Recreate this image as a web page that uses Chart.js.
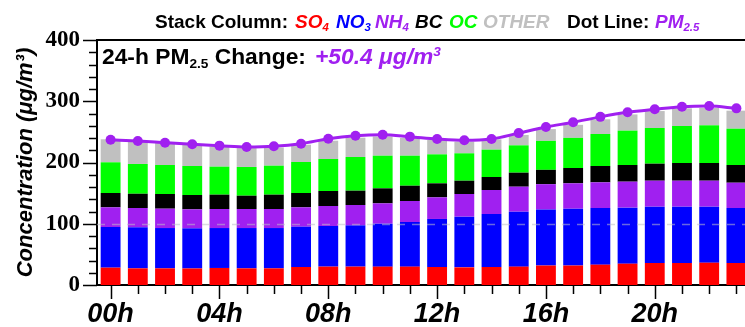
<!DOCTYPE html>
<html><head><meta charset="utf-8">
<script src="https://cdn.jsdelivr.net/npm/chart.js@4"></script>
<style>
html,body{margin:0;padding:0;background:#fff;overflow:hidden;width:745px;height:327px;}
#wrap{position:relative;width:755px;height:327px;}
canvas{position:absolute;left:0;top:0;}
.t{position:absolute;white-space:nowrap;font-family:"Liberation Sans",Arial,sans-serif;font-weight:bold;line-height:1;color:#000;}
.i{font-style:italic;}
.lg{font-size:19px;top:11.5px;}
.sb{font-size:0.6em;position:relative;top:0.3em;}
.sp{font-size:0.6em;position:relative;top:-0.6em;}
</style></head>
<body>
<div id="wrap">
<canvas id="c" width="755" height="327"></canvas>
<div class="t lg" style="left:155px;">Stack Column:</div>
<div class="t lg i" style="left:295px;color:#FF0000">SO<span class="sb">4</span></div>
<div class="t lg i" style="left:336px;color:#0000FF">NO<span class="sb">3</span></div>
<div class="t lg i" style="left:375px;color:#A020F0">NH<span class="sb">4</span></div>
<div class="t lg i" style="left:415px;color:#000">BC</div>
<div class="t lg i" style="left:449px;color:#00FF00">OC</div>
<div class="t lg i" style="left:483px;color:#C0C0C0">OTHER</div>
<div class="t lg" style="left:567px;">Dot Line:</div>
<div class="t lg i" style="left:655px;color:#A020F0">PM<span class="sb">2.5</span></div>
<div class="t" style="left:102px;top:45px;font-size:22.8px;">24-h PM<span class="sb">2.5</span> Change:</div>
<div class="t i" style="left:315px;top:45px;font-size:22.8px;color:#A020F0">+50.4 μg/m<span class="sp">3</span></div>
</div>
<script>
const hours = ['00h','01h','02h','03h','04h','05h','06h','07h','08h','09h','10h','11h','12h','13h','14h','15h','16h','17h','18h','19h','20h','21h','22h','23h'];
const so4   = [28.3,27.2,27.2,27.0,27.8,27.2,27.2,29.4,30.0,30.0,30.0,30.0,29.4,28.8,29.4,30.0,31.8,31.8,33.2,34.8,35.9,35.9,36.4,35.9];
const no3   = [66.4,67.0,65.8,65.5,65.2,65.8,65.8,65.8,66.3,67.4,70.1,72.9,78.4,82.8,86.5,89.7,91.5,92.8,92.5,91.5,92.0,92.0,91.5,89.8];
const nh4   = [32.1,31.5,31.6,31.0,31.1,31.1,31.1,31.6,32.7,33.2,33.2,34.2,35.3,37.0,39.2,40.8,41.3,41.4,41.9,42.4,42.4,42.4,42.4,41.3];
const bc    = [23.4,23.3,24.0,23.4,23.4,21.7,23.4,23.4,24.5,23.4,24.5,25.0,22.9,21.7,21.2,22.9,23.4,25.0,26.7,27.2,27.8,28.9,28.9,28.9];
const oc    = [50.1,48.6,47.3,47.4,45.7,46.9,47.3,50.6,52.2,55.0,53.3,49.0,47.3,44.7,44.7,44.6,47.3,49.2,52.2,56.1,58.2,60.4,61.5,59.3];
const other = [37.6,37.4,36.5,35.9,32.8,30.8,29.7,28.2,29.9,31.5,31.4,28.9,23.4,19.0,16.8,17.0,19.2,21.3,24.0,26.5,27.7,28.8,28.3,29.4];
const pm25  = [237.0,235.0,232.3,229.7,227.5,225.3,226.4,230.7,238.9,243.8,245.4,242.2,238.4,236.2,238.4,248.0,258.0,265.6,274.5,281.9,286.8,291.1,292.2,288.4];
const yTickValues = [0,100,200,300,400];

const framePlugin = {
  id: 'frame',
  beforeDatasetDraw(chart, args) {
    if (args.index !== 6) return;
    const ctx = chart.ctx, a = chart.chartArea, y = chart.scales.y;
    const py = Math.round(y.getPixelForValue(100)) + 0.5;
    ctx.save();
    ctx.strokeStyle = 'rgba(190,190,200,0.55)';
    ctx.lineWidth = 1.5;
    ctx.setLineDash([8, 7]);
    ctx.beginPath(); ctx.moveTo(a.left, py); ctx.lineTo(a.right, py); ctx.stroke();
    ctx.restore();
  },
  afterDraw(chart) {
    const ctx = chart.ctx, a = chart.chartArea, x = chart.scales.x, y = chart.scales.y;
    ctx.save();
    ctx.strokeStyle = '#000';
    ctx.lineWidth = 1.5;
    ctx.beginPath();
    for (let v = 0; v <= 400; v += 20) {
      const py = Math.round(y.getPixelForValue(v)) + 0.5;
      const len = (v % 100 === 0) ? 14 : 8;
      ctx.moveTo(a.left - len, py); ctx.lineTo(a.left, py);
    }
    for (let i = 0; i < hours.length; i++) {
      const px = Math.round(x.getPixelForValue(i)) + 0.5;
      const len = (i % 4 === 0) ? 14 : 9;
      ctx.moveTo(px, a.bottom); ctx.lineTo(px, a.bottom + len);
    }
    ctx.stroke();
    ctx.lineWidth = 2;
    ctx.beginPath();
    ctx.moveTo(a.left - 1, a.top); ctx.lineTo(a.right + 5, a.top);
    ctx.stroke();
    ctx.restore();
  }
};

const barDs = (label, data, color) => ({ type:'bar', label, data, backgroundColor:color, borderWidth:0, stack:'s', order:1, barPercentage:0.73, categoryPercentage:1.0 });

new Chart(document.getElementById('c'), {
  data: {
    labels: hours,
    datasets: [
      barDs('SO4', so4, '#FF0000'),
      barDs('NO3', no3, '#0000FF'),
      barDs('NH4', nh4, '#A020F0'),
      barDs('BC', bc, '#000000'),
      barDs('OC', oc, '#00FF00'),
      barDs('OTHER', other, '#C0C0C0'),
      { type:'line', label:'PM2.5', data:pm25, stack:'pm', order:0, borderColor:'#A020F0', backgroundColor:'#A020F0', borderWidth:3, pointRadius:5, pointBorderWidth:0, pointBackgroundColor:'#A020F0', cubicInterpolationMode:'monotone', fill:false, clip:false }
    ]
  },
  options: {
    responsive:false, animation:false, devicePixelRatio:1,
    layout:{ padding:{ top:40, left:0, right:0, bottom:0 } },
    plugins:{ legend:{display:false}, tooltip:{enabled:false}, title:{display:false} },
    scales:{
      x:{ type:'category', offset:true, stacked:true,
          grid:{display:false, drawTicks:false},
          border:{display:true, color:'#000', width:2},
          ticks:{ autoSkip:false, maxRotation:0, minRotation:0, padding:13, color:'#000',
                  font:{family:'"Liberation Sans", Arial, sans-serif', size:27, style:'italic', weight:'bold'},
                  callback:(v,i)=> (i % 4 === 0 ? hours[i] : '') },
          afterFit:s=>{ s.height = 42; } },
      y:{ stacked:true, min:0, max:400,
          grid:{display:false, drawTicks:false},
          border:{display:true, color:'#000', width:2},
          afterBuildTicks:s=>{ s.ticks = yTickValues.map(v=>({value:v})); },
          ticks:{ padding:17, color:'#000', font:{family:'"Liberation Serif", "Times New Roman", serif', size:23, weight:'bold'} },
          title:{ display:true, text:'Concentration (μg/m³)', color:'#000', padding:{top:13, bottom:0},
                  font:{family:'"Liberation Sans", Arial, sans-serif', size:22, style:'italic', weight:'bold'} },
          afterFit:s=>{ s.width = 97; } }
    }
  },
  plugins:[framePlugin]
});
</script>
</body></html>
